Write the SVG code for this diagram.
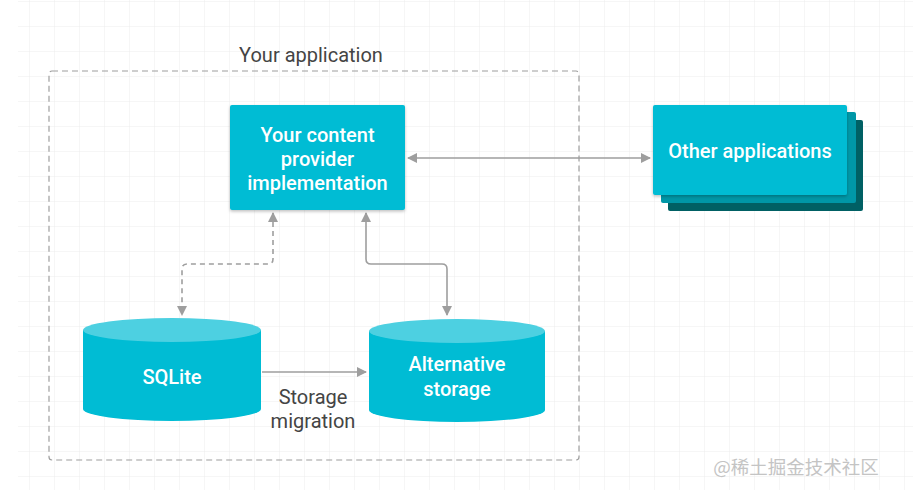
<svg xmlns="http://www.w3.org/2000/svg" width="913" height="490" viewBox="0 0 913 490">
<defs>
<pattern id="grid" x="5" y="2" width="25" height="25" patternUnits="userSpaceOnUse">
<path d="M25 0V25M0 25H25" fill="none" stroke="#ececec" stroke-width="1"/>
</pattern>
<marker id="ah" viewBox="0 0 10 10" refX="9" refY="5" markerWidth="10" markerHeight="10" markerUnits="userSpaceOnUse" orient="auto-start-reverse">
<path d="M0 0L10 5L0 10z" fill="#9e9e9e"/>
</marker>
<filter id="sh" x="-10%" y="-10%" width="120%" height="130%">
<feDropShadow dx="0" dy="1.5" stdDeviation="1.5" flood-color="#000" flood-opacity="0.25"/>
</filter>
</defs>
<style>
.lbl{font-family:Roboto,"Liberation Sans",sans-serif;font-size:20px;fill:#ffffff;text-anchor:middle;font-weight:500}
.dark{font-family:Roboto,"Liberation Sans",sans-serif;font-size:20px;fill:#444444;text-anchor:middle}
.conn{fill:none;stroke:#9e9e9e;stroke-width:1.6}
</style>
<rect width="913" height="490" fill="#ffffff"/>
<rect x="18" y="0" width="895" height="490" fill="url(#grid)"/>
<text x="311" y="62" class="dark">Your application</text>
<rect x="49" y="71" width="530" height="389" rx="3" fill="none" stroke="#9e9e9e" stroke-width="1.2" stroke-dasharray="6 4"/>

<g id="connectors">
<path class="conn" d="M408 158H650" marker-start="url(#ah)" marker-end="url(#ah)"/>
<path class="conn" d="M273 213V259Q273 264 268 264H187Q182 264 182 269V315" stroke-dasharray="5 4" marker-start="url(#ah)" marker-end="url(#ah)"/>
<path class="conn" d="M366 213V259Q366 264 371 264H442Q447 264 447 269V315" marker-start="url(#ah)" marker-end="url(#ah)"/>
<path class="conn" d="M262 372H366" marker-end="url(#ah)"/>
</g>

<g id="provider">
<rect x="230" y="105" width="175" height="105" rx="2" fill="#00BCD4" filter="url(#sh)"/>
<text x="317.5" y="142" class="lbl">Your content</text>
<text x="317.5" y="166" class="lbl">provider</text>
<text x="317.5" y="190" class="lbl">implementation</text>
</g>

<g id="other">
<rect x="668" y="120" width="195" height="91" rx="2" fill="#006064"/>
<rect x="661" y="112" width="195" height="91" rx="2" fill="#0097A7"/>
<rect x="653" y="105" width="194" height="90" rx="2" fill="#00BCD4" filter="url(#sh)"/>
<text x="750" y="158" class="lbl">Other applications</text>
</g>

<g id="sqlite">
<path d="M83 330V409A89 12 0 0 0 261 409V330z" fill="#00BCD4"/>
<ellipse cx="172" cy="330" rx="89" ry="12" fill="#4DD0E1"/>
<text x="172" y="384" class="lbl">SQLite</text>
</g>

<g id="alt">
<path d="M369 331V410A88 12 0 0 0 545 410V331z" fill="#00BCD4"/>
<ellipse cx="457" cy="331" rx="88" ry="12" fill="#4DD0E1"/>
<text x="457" y="371" class="lbl">Alternative</text>
<text x="457" y="396" class="lbl">storage</text>
</g>

<text x="313" y="404" class="dark">Storage</text>
<text x="313" y="428" class="dark">migration</text>

<text x="796" y="474" font-family="'Noto Sans CJK SC',sans-serif" font-size="18.5" fill="#c4c4c4" text-anchor="middle">@稀土掘金技术社区</text>
</svg>
